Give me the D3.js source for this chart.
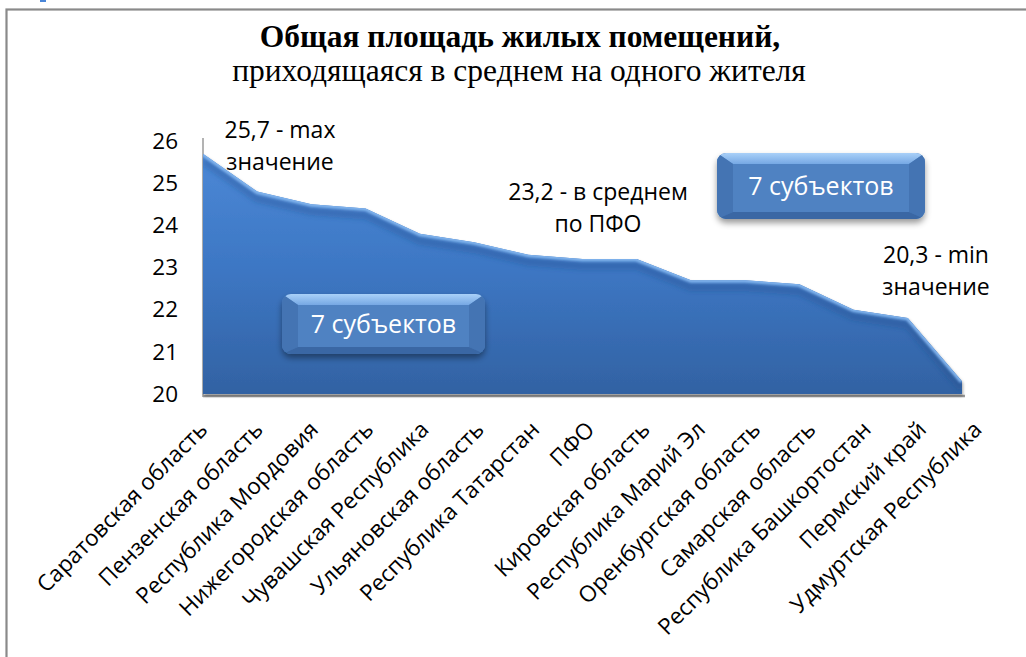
<!DOCTYPE html>
<html>
<head>
<meta charset="utf-8">
<script src="https://cdn.jsdelivr.net/npm/d3@7"></script>
<style>
  html, body { margin: 0; padding: 0; background: #fff; }
  svg { display: block; }
</style>
</head>
<body>
<svg id="chart" width="1026" height="657"></svg>
<script>
// Общая площадь жилых помещений на одного жителя, кв. м
const categories = [
  "Саратовская область", "Пензенская область", "Республика Мордовия",
  "Нижегородская область", "Чувашская Республика", "Ульяновская область",
  "Республика Татарстан", "ПФО", "Кировская область", "Республика Марий Эл",
  "Оренбургская область", "Самарская область", "Республика Башкортостан",
  "Пермский край", "Удмуртская Республика"
];
const values = [25.7, 24.8, 24.5, 24.4, 23.8, 23.6, 23.3, 23.2, 23.2, 22.7, 22.7, 22.6, 22.0, 21.8, 20.3];
const yTicks = [20, 21, 22, 23, 24, 25, 26];
const titleLines = ["Общая площадь жилых помещений,", "приходящаяся в среднем на одного жителя"];
const notes = [
  { lines: ["25,7 - max", "значение"], cx: 280, y: 138 },
  { lines: ["23,2 - в среднем", "по ПФО"], cx: 598, y: 200 },
  { lines: ["20,3 - min", "значение"], cx: 936, y: 263 }
];
const badges = [
  { text: "7 субъектов", x: 282, y: 294, w: 203, h: 60 },
  { text: "7 субъектов", x: 717, y: 153, w: 208, h: 66 }
];

const svg = d3.select("#chart");
const plot = { left: 203, right: 962, top: 141, bottom: 394 };
const sans = "'Open Sans', 'Noto Sans', sans-serif";

const x = d3.scalePoint().domain(categories).range([plot.left, plot.right]);
const y = d3.scaleLinear().domain([20, 26]).range([plot.bottom, plot.top]);
// labels sit on a slightly wider spread than the points
const xLab = d3.scalePoint().domain(categories).range([plot.left, plot.right + 15]);

const defs = svg.append("defs");

const g1 = defs.append("linearGradient").attr("id", "areaFill")
  .attr("gradientUnits", "userSpaceOnUse")
  .attr("x1", 0).attr("y1", plot.top).attr("x2", 0).attr("y2", plot.bottom);
g1.append("stop").attr("offset", 0).attr("stop-color", "#4d8ad8");
g1.append("stop").attr("offset", 0.5).attr("stop-color", "#3d77c4");
g1.append("stop").attr("offset", 1).attr("stop-color", "#3262a3");

const shadow = defs.append("filter").attr("id", "areaShadow")
  .attr("x", "-5%").attr("y", "-5%").attr("width", "110%").attr("height", "115%");
shadow.append("feDropShadow").attr("dx", 1).attr("dy", 2).attr("stdDeviation", 1.5)
  .attr("flood-color", "#000").attr("flood-opacity", 0.35);

const soft = defs.append("filter").attr("id", "soft");
soft.append("feGaussianBlur").attr("stdDeviation", 1.2);
const softer = defs.append("filter").attr("id", "softer");
softer.append("feGaussianBlur").attr("stdDeviation", 2.5);

const area = d3.area()
  .x((d, i) => x(categories[i]))
  .y0(y(20))
  .y1(d => y(d));
const line = d3.line()
  .x((d, i) => x(categories[i]))
  .y(d => y(d));

defs.append("clipPath").attr("id", "areaClip")
  .append("path").attr("d", area(values));

// frame
svg.append("rect").attr("x", 40).attr("y", -2).attr("width", 6).attr("height", 4)
  .attr("fill", "#4a86d8");
svg.append("rect").attr("x", 6.5).attr("y", 9.5).attr("width", 1040).attr("height", 700)
  .attr("fill", "none").attr("stroke", "#8a8a8a").attr("stroke-width", 2.2);

// title
const title = svg.append("text").attr("text-anchor", "middle")
  .attr("font-family", "'Liberation Serif', 'Times New Roman', serif").attr("fill", "#000");
title.append("tspan").attr("x", 520).attr("y", 47)
  .attr("font-weight", "bold").attr("font-size", 31.5).text(titleLines[0]);
title.append("tspan").attr("x", 519).attr("y", 81)
  .attr("font-size", 31.5).text(titleLines[1]);

// floor and axis
svg.append("line").attr("x1", plot.left).attr("x2", plot.right + 3)
  .attr("y1", plot.bottom + 2).attr("y2", plot.bottom + 2)
  .attr("stroke", "#9a9a9a").attr("stroke-width", 2.5);
svg.append("line").attr("x1", plot.left).attr("x2", plot.left)
  .attr("y1", plot.top - 3).attr("y2", plot.bottom + 3)
  .attr("stroke", "#9a9a9a").attr("stroke-width", 1.5);

// area with bevel
const ag = svg.append("g");
ag.append("path").attr("d", area(values)).attr("fill", "url(#areaFill)")
  .attr("filter", "url(#areaShadow)");
const bevel = ag.append("g").attr("clip-path", "url(#areaClip)");
bevel.append("path").attr("d", line(values)).attr("fill", "none")
  .attr("stroke", "#1f4a86").attr("stroke-opacity", 0.3).attr("stroke-width", 8)
  .attr("transform", "translate(0,7)").attr("filter", "url(#softer)");
bevel.append("path").attr("d", line(values)).attr("fill", "none")
  .attr("stroke", "#80b2ec").attr("stroke-width", 5).attr("filter", "url(#soft)");
bevel.append("line").attr("x1", plot.left).attr("x2", plot.left)
  .attr("y1", plot.top).attr("y2", plot.bottom)
  .attr("stroke", "#6a9fe0").attr("stroke-width", 5).attr("filter", "url(#soft)");
bevel.append("line").attr("x1", plot.left).attr("x2", plot.right)
  .attr("y1", plot.bottom).attr("y2", plot.bottom)
  .attr("stroke", "#1e3f70").attr("stroke-opacity", 0.5).attr("stroke-width", 5).attr("filter", "url(#soft)");

// y axis labels
const yAxis = d3.axisLeft(y).tickValues(yTicks).tickSize(0).tickPadding(25)
  .tickFormat(d3.format("d"));
svg.append("g").attr("transform", `translate(${plot.left},0)`).call(yAxis)
  .call(g => g.select(".domain").remove())
  .selectAll("text").attr("font-family", sans).attr("font-size", 22.5).attr("fill", "#000");

// category labels
svg.append("g").selectAll("text").data(categories).join("text")
  .attr("transform", d => `translate(${xLab(d) + 6},${plot.bottom + 37}) rotate(-45)`)
  .attr("text-anchor", "end")
  .attr("font-family", sans).attr("font-size", 22.5).attr("fill", "#000")
  .text(d => d);

// value notes
notes.forEach(n => {
  const t = svg.append("text").attr("text-anchor", "middle")
    .attr("font-family", sans).attr("font-size", 23).attr("fill", "#000");
  n.lines.forEach((l, i) => t.append("tspan").attr("x", n.cx).attr("y", n.y + i * 32).text(l));
});

// badges
const badgeTop = defs.append("linearGradient").attr("id", "badgeTop")
  .attr("x1", 0).attr("y1", 0).attr("x2", 0).attr("y2", 1);
badgeTop.append("stop").attr("offset", 0).attr("stop-color", "#a9d0f8");
badgeTop.append("stop").attr("offset", 1).attr("stop-color", "#76a8e4");
const bshadow = defs.append("filter").attr("id", "badgeShadow")
  .attr("x", "-10%").attr("y", "-10%").attr("width", "120%").attr("height", "140%");
bshadow.append("feDropShadow").attr("dx", 0).attr("dy", 4).attr("stdDeviation", 3)
  .attr("flood-color", "#000").attr("flood-opacity", 0.4);

badges.forEach(b => {
  const g = svg.append("g").attr("transform", `translate(${b.x},${b.y})`);
  const bx = 16, bt = 11, bb = 7;
  const cp = "bclip" + b.x;
  defs.append("clipPath").attr("id", cp).append("rect")
    .attr("width", b.w).attr("height", b.h).attr("rx", 9);
  g.append("rect").attr("width", b.w).attr("height", b.h).attr("rx", 9)
    .attr("fill", "#4d80bf").attr("filter", "url(#badgeShadow)");
  const inner = g.append("g").attr("clip-path", `url(#${cp})`);
  inner.append("path").attr("d", `M0,0 H${b.w} L${b.w - bx},${bt} H${bx} Z`).attr("fill", "url(#badgeTop)");
  inner.append("path").attr("d", `M0,0 L${bx},${bt} V${b.h - bb} L0,${b.h} Z`).attr("fill", "#4474b3");
  inner.append("path").attr("d", `M${b.w},0 L${b.w - bx},${bt} V${b.h - bb} L${b.w},${b.h} Z`).attr("fill", "#4474b3");
  inner.append("path").attr("d", `M0,${b.h} L${bx},${b.h - bb} H${b.w - bx} L${b.w},${b.h} Z`).attr("fill", "#3a67a4");
  inner.append("rect").attr("x", bx).attr("y", bt).attr("width", b.w - 2 * bx).attr("height", b.h - bt - bb)
    .attr("fill", "#4f82c2");
  g.append("text").attr("x", b.w / 2).attr("y", b.h / 2 + 9).attr("text-anchor", "middle")
    .attr("font-family", sans).attr("font-size", 25).attr("fill", "#fff").text(b.text);
});
</script>
</body>
</html>
